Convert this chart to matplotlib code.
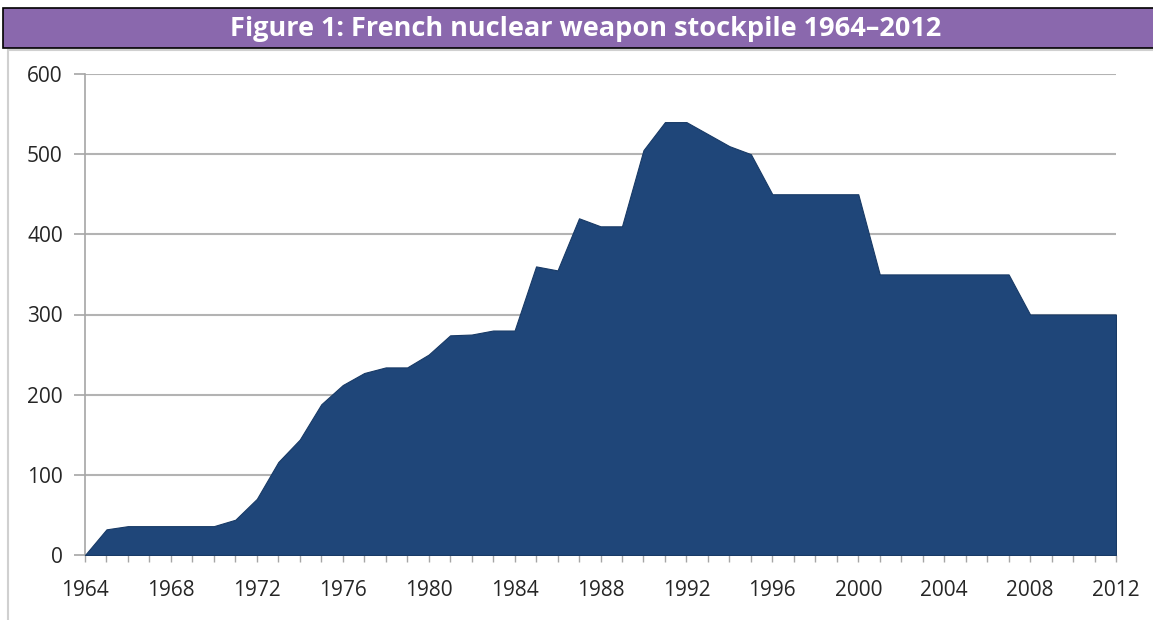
import matplotlib.pyplot as plt
from matplotlib.patches import Rectangle

# French nuclear weapon stockpile
years = list(range(1964, 2013))
warheads = [0, 32, 36, 36, 36, 36, 36, 44, 70, 116,
            144, 188, 212, 227, 234, 234, 250, 274, 275, 280,
            280, 360, 355, 420, 410, 410, 505, 540, 540, 525,
            510, 500, 450, 450, 450, 450, 450, 350, 350, 350,
            350, 350, 350, 350, 300, 300, 300, 300, 300]
xtick_years = list(range(1964, 2013, 4))
yticks = [0, 100, 200, 300, 400, 500, 600]
title = "Figure 1: French nuclear weapon stockpile 1964\u20132012"

fill_color = "#1f4679"
grid_color = "#b3b3b3"
axis_color = "#a6a6a6"
text_color = "#262626"

fig = plt.figure(figsize=(11.53, 6.20), dpi=100)
fig.patch.set_facecolor("white")

# light frame / shadow round the chart panel
fig.patches.append(Rectangle((8 / 1153, -0.01), 1.0, 1 - 50 / 620 + 0.01,
                             transform=fig.transFigure, facecolor="none",
                             edgecolor="#d0d0d0", linewidth=1.5, zorder=-1))

# purple title bar
fig.patches.append(Rectangle((3 / 1153, 1 - 48 / 620), 1.0, 40 / 620,
                             transform=fig.transFigure, facecolor="#8a68ad",
                             edgecolor="black", linewidth=1.2, zorder=-1))
fig.text(586 / 1153, 1 - 29 / 620, title, ha="center", va="center",
         color="white", fontsize=19.5, fontweight="bold", family="Open Sans")

ax = fig.add_axes([85 / 1153, 1 - 555 / 620, (1116 - 85) / 1153, (555 - 74) / 620])
ax.set_zorder(2)
ax.patch.set_alpha(0)
ax.fill_between(years, warheads, 0, color=fill_color, linewidth=0.8,
                edgecolor="#183a66", zorder=3)

ax.set_xlim(1964, 2012)
ax.set_ylim(0, 600)
ax.set_yticks(yticks)
ax.set_xticks(xtick_years)
ax.set_xticks(years, minor=True)
ax.grid(axis="y", color=grid_color, linewidth=1.5, zorder=1)

for side in ["top", "right"]:
    ax.spines[side].set_visible(False)
ax.spines["left"].set_color(axis_color)
ax.spines["bottom"].set_color(axis_color)
ax.spines["left"].set_linewidth(1.2)
ax.spines["bottom"].set_linewidth(1.2)

ax.tick_params(axis="y", length=8, width=1.2, color=axis_color, pad=8,
               labelsize=15, labelcolor=text_color)
ax.tick_params(axis="x", which="major", length=5, width=1, color=axis_color,
               pad=13, labelsize=15, labelcolor=text_color)
ax.tick_params(axis="x", which="minor", length=5, width=1, color=axis_color)
for lbl in ax.get_xticklabels() + ax.get_yticklabels():
    lbl.set_family("Open Sans")

fig.savefig("out.png", dpi=100)
